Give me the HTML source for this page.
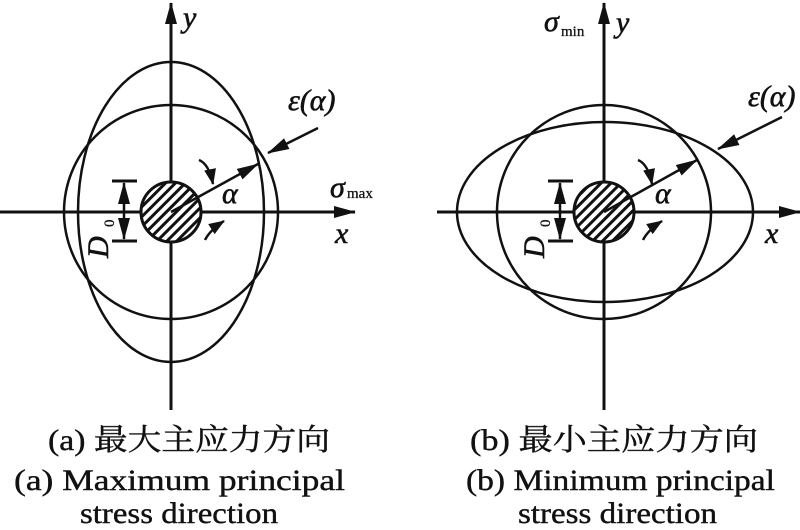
<!DOCTYPE html>
<html><head><meta charset="utf-8"><style>html,body{margin:0;padding:0;background:#fff}svg{display:block}
svg text{font-family:"Liberation Serif","Times New Roman",Times,"Noto Serif CJK SC",serif}</style></head>
<body>
<svg width="800" height="530" viewBox="0 0 800 530" xmlns="http://www.w3.org/2000/svg">
<defs>
<pattern id="h" width="7" height="7" patternUnits="userSpaceOnUse" patternTransform="rotate(45)"><rect width="7" height="7" fill="#fff"/><rect width="3" height="7" fill="#111"/></pattern>
<marker id="b" markerWidth="22" markerHeight="12" refX="21" refY="6" orient="auto" markerUnits="userSpaceOnUse" viewBox="0 0 22 12"><path d="M0,0L22,6L0,12z" fill="#111"/></marker>
<marker id="c" markerWidth="16" markerHeight="12" refX="15" refY="6" orient="auto" markerUnits="userSpaceOnUse" viewBox="0 0 16 12"><path d="M0,0L16,6L0,12z" fill="#111"/></marker>
</defs>
<g stroke="#111" stroke-width="3" fill="none">
<line x1="0" y1="212" x2="355" y2="212" marker-end="url(#b)"/>
<line x1="171" y1="410" x2="171" y2="3" marker-end="url(#b)"/>
<circle cx="171" cy="212" r="107" stroke-width="2.5"/>
<ellipse cx="171" cy="212" rx="93" ry="150" stroke-width="2.5"/>
<circle cx="171" cy="212" r="30" fill="url(#h)"/>
<line x1="171" y1="212" x2="258" y2="164" marker-end="url(#b)" stroke-width="2.5"/>
<line x1="318" y1="128" x2="268" y2="153" marker-end="url(#b)" stroke-width="2.5"/>
<line x1="112" y1="181" x2="137" y2="181"/><line x1="112" y1="241" x2="137" y2="241"/>
<line x1="124" y1="211" x2="124" y2="183" marker-end="url(#b)" stroke-width="2.5"/>
<line x1="124" y1="211" x2="124" y2="239" marker-end="url(#b)" stroke-width="2.5"/>
<path d="M199,160 Q209,164 213,184" marker-end="url(#c)" stroke-width="2.5"/>
<path d="M205,240 Q210,230 224,221" marker-end="url(#c)" stroke-width="2.5"/>
<line x1="437" y1="212" x2="800" y2="212" marker-end="url(#b)"/>
<line x1="604" y1="410" x2="604" y2="3" marker-end="url(#b)"/>
<circle cx="604" cy="212" r="107" stroke-width="2.5"/>
<ellipse cx="605" cy="212" rx="148" ry="90" stroke-width="2.5"/>
<circle cx="604" cy="212" r="30" fill="url(#h)"/>
<line x1="604" y1="212" x2="697" y2="160" marker-end="url(#b)" stroke-width="2.5"/>
<line x1="782" y1="117" x2="718" y2="149" marker-end="url(#b)" stroke-width="2.5"/>
<line x1="548" y1="181" x2="573" y2="181"/><line x1="548" y1="241" x2="573" y2="241"/>
<line x1="560" y1="211" x2="560" y2="183" marker-end="url(#b)" stroke-width="2.5"/>
<line x1="560" y1="211" x2="560" y2="239" marker-end="url(#b)" stroke-width="2.5"/>
<path d="M638,160 Q648,164 652,184" marker-end="url(#c)" stroke-width="2.5"/>
<path d="M643,240 Q648,230 662,221" marker-end="url(#c)" stroke-width="2.5"/>
</g>
<g fill="#111" font-style="italic" font-size="30" stroke="#111" stroke-width="0.6">
<text x="183" y="27">y</text>
<text x="335" y="243">x</text>
<text x="222" y="203">α</text>
<text x="288" y="110">ε(α)</text>
<text x="616" y="32">y</text>
<text x="765" y="243">x</text>
<text x="655" y="203">α</text>
<text x="748" y="106">ε(α)</text>
<text x="330" y="197">σ</text>
<text x="544" y="31">σ</text>
<text transform="translate(108,258) rotate(-90)">D</text>
<text transform="translate(544,258) rotate(-90)">D</text>
</g>
<g fill="#111" font-size="15" stroke="#111" stroke-width="0.3">
<text x="347" y="198">max</text>
<text x="561" y="36">min</text>
<text transform="translate(114,227) rotate(-90)">0</text>
<text transform="translate(550,227) rotate(-90)">0</text>
</g>
<g fill="#111" font-size="30" stroke="#111" stroke-width="0.4">
<text x="48" y="450" textLength="282" lengthAdjust="spacingAndGlyphs">(a) 最大主应力方向</text>
<text x="14" y="490" textLength="331" lengthAdjust="spacingAndGlyphs">(a) Maximum principal</text>
<text x="80" y="523" textLength="198" lengthAdjust="spacingAndGlyphs">stress direction</text>
<text x="470" y="450" textLength="288" lengthAdjust="spacingAndGlyphs">(b) 最小主应力方向</text>
<text x="466" y="490" textLength="309" lengthAdjust="spacingAndGlyphs">(b) Minimum principal</text>
<text x="518" y="523" textLength="199" lengthAdjust="spacingAndGlyphs">stress direction</text>
</g>
</svg>
</body></html>
